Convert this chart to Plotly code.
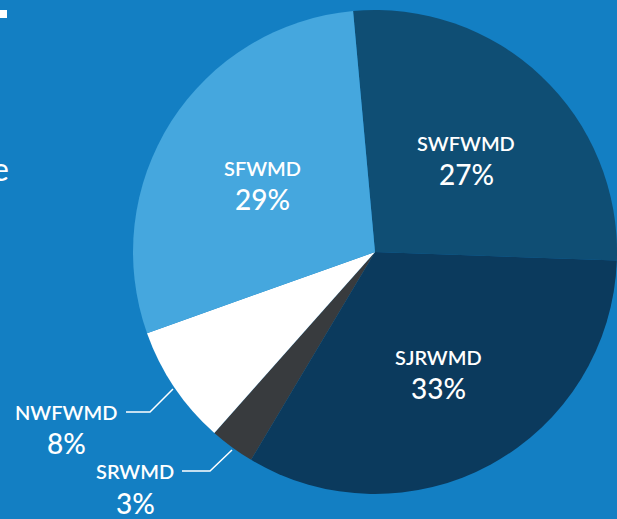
import math
import plotly.graph_objects as go

# ---- data ----
districts = ["SWFWMD", "SJRWMD", "SRWMD", "NWFWMD", "SFWMD"]
shares = [27, 33, 3, 8, 29]
slice_colors = ["#0f4e74", "#0b3a5d", "#383b3e", "#ffffff", "#45a7de"]
inside_labels = ["SWFWMD", "SJRWMD", "SFWMD"]
outside_labels = ["NWFWMD", "SRWMD"]

W, H = 617, 519
BG = "#137fc3"
cx, cy, R = 375, 252, 242
ROT = -5.2

fig = go.Figure(go.Pie(
    labels=districts, values=shares, sort=False, direction="clockwise",
    rotation=ROT, marker=dict(colors=slice_colors, line=dict(width=0)),
    textinfo="none", hoverinfo="label+percent", showlegend=False,
    domain=dict(x=[(cx - R) / W, (cx + R) / W], y=[(H - cy - R) / H, (H - cy + R) / H]),
))

FONT = "Lato"
NAME_SIZE, PCT_SIZE = 20, 28
anns = []
total = sum(shares)
start = ROT
for name, v in zip(districts, shares):
    span = v / total * 360
    mid = math.radians(start + span / 2)
    start += span
    if name in inside_labels:
        r = 0.55 * R
        px = cx + r * math.sin(mid)
        py = cy - r * math.cos(mid) + 3
        anns.append(dict(x=px / W, y=1 - (py - 15) / H, text=name, showarrow=False,
                         xref="paper", yref="paper", xanchor="center", yanchor="middle",
                         font=dict(family=FONT, size=NAME_SIZE, color="white", weight=600)))
        anns.append(dict(x=px / W, y=1 - (py + 16) / H, text=f"{v}%", showarrow=False,
                         xref="paper", yref="paper", xanchor="center", yanchor="middle",
                         font=dict(family=FONT, size=PCT_SIZE, color="white", weight=500)))

# outside labels with leader lines
out_pos = {"NWFWMD": (66, 412, 443), "SRWMD": (135, 471, 503)}
for name, v in zip(districts, shares):
    if name in out_pos:
        x, y1, y2 = out_pos[name]
        anns.append(dict(x=x / W, y=1 - y1 / H, text=name, showarrow=False,
                         xref="paper", yref="paper", xanchor="center", yanchor="middle",
                         font=dict(family=FONT, size=NAME_SIZE, color="white", weight=600)))
        anns.append(dict(x=x / W, y=1 - y2 / H, text=f"{v}%", showarrow=False,
                         xref="paper", yref="paper", xanchor="center", yanchor="middle",
                         font=dict(family=FONT, size=PCT_SIZE, color="white", weight=500)))

# partial text at left edge
anns.append(dict(x=11 / W, y=1 - 168 / H, text="e", showarrow=False, xref="paper", yref="paper",
                 xanchor="right", yanchor="middle",
                 font=dict(family=FONT, size=32, color="white", weight=400)))

shapes = []
def pline(pts):
    path = "M " + " L ".join(f"{px / W},{1 - py / H}" for px, py in pts)
    shapes.append(dict(type="path", path=path, xref="paper", yref="paper",
                       line=dict(color="white", width=1.5)))
pline([(126, 412), (150, 412), (173, 389)])
pline([(182, 471), (210, 471), (232, 450)])
shapes.append(dict(type="rect", xref="paper", yref="paper", x0=0, x1=7 / W,
                   y0=1 - 18 / H, y1=1 - 10 / H, fillcolor="white", line=dict(width=0)))

fig.update_layout(width=W, height=H, margin=dict(l=0, r=0, t=0, b=0),
                  paper_bgcolor=BG, plot_bgcolor=BG, annotations=anns, shapes=shapes)
fig.write_html("out.html", config=dict(displayModeBar=False),
               post_script="document.body.style.margin='0';document.body.style.overflow='hidden';")
